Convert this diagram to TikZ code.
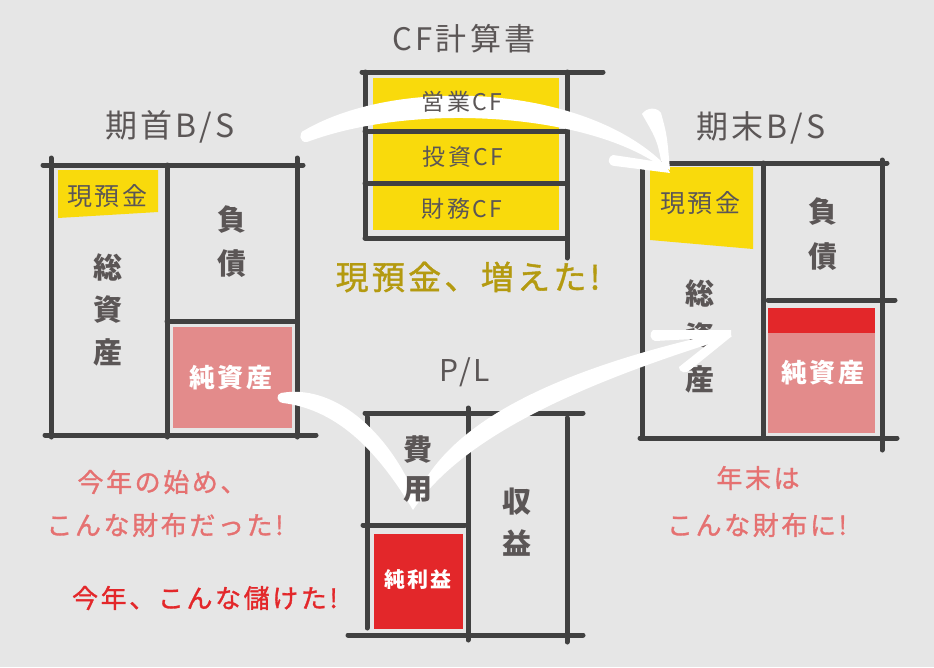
\documentclass[tikz,border=0pt]{standalone}
\usepackage{fontspec}
\setmainfont{Noto Sans CJK JP}
\newfontfamily\jps{Noto Sans CJK JP}[LetterSpace=10]
\newfontfamily\jpn{Noto Sans CJK JP}[LetterSpace=10,FakeBold=1.2]
\definecolor{bgc}{HTML}{E6E6E6}
\definecolor{lnc}{HTML}{414141}
\definecolor{txc}{HTML}{5B5656}
\definecolor{yelc}{HTML}{F9DA0C}
\definecolor{pinkc}{HTML}{E38B8B}
\definecolor{redc}{HTML}{E3272A}
\definecolor{olvc}{HTML}{B49A10}
\definecolor{salc}{HTML}{E57171}
\begin{document}
\begin{tikzpicture}[x=1pt,y=-1pt,
 ln/.style={draw=lnc,line width=5pt,line cap=round},
 ttl/.style={text=txc,font=\jps\fontsize{32}{36}\selectfont,inner sep=0pt},
 big/.style={text=txc,font=\bfseries\fontsize{29}{32}\selectfont,inner sep=0pt},
 cash/.style={text=txc,font=\jps\fontsize{25}{28}\selectfont,inner sep=0pt},
 cfl/.style={text=txc,font=\jps\fontsize{23}{26}\selectfont,inner sep=0pt},
 wlab/.style={text=white,font=\jps\bfseries\fontsize{26}{30}\selectfont,inner sep=0pt},
 note/.style={font=\jpn\fontsize{26}{30}\selectfont,inner sep=0pt},
 arr/.style={fill=white}]
\fill[bgc] (0,0) rectangle (934,667);
\useasboundingbox (0,0) rectangle (934,667);

% ---------- fills ----------
\fill[yelc] (58,170) -- (158,170) -- (158,212) -- (58,218) -- cycle;
\fill[pinkc] (173,327) rectangle (292,428);
\fill[yelc] (373,78) rectangle (559,230);
\fill[yelc] (650,167) -- (753,167) -- (753,249) -- (650,240) -- cycle;
\fill[redc] (768,308) rectangle (875,333);
\fill[pinkc] (768,333) rectangle (875,433);
\fill[redc] (374,534) rectangle (463,629);

% ---------- left B/S ----------
\draw[ln] (43,165) -- (303,165);
\draw[ln] (51,158) -- (51,437);
\draw[ln] (167,165) -- (167,437);
\draw[ln] (297,158) -- (297,437);
\draw[ln] (45,435) -- (316,435);
\draw[ln] (167,321) -- (297,321);

% ---------- CF ----------
\draw[ln] (362,72) -- (603,72);
\draw[ln] (365,72) -- (365,238);
\draw[ln] (567,72) -- (567,258);
\draw[ln] (365,238) -- (567,238);
\draw[ln] (365,131) -- (567,131);
\draw[ln] (365,183) -- (567,183);

% ---------- right B/S ----------
\draw[ln] (640,163) -- (887,163);
\draw[ln] (642,163) -- (642,438);
\draw[ln] (763,163) -- (763,438);
\draw[ln] (882,160) -- (882,450);
\draw[ln] (640,438) -- (897,438);
\draw[ln] (768,300) -- (895,300);

% ---------- P/L ----------
\draw[ln] (365,413) -- (583,413);
\draw[ln] (367,417) -- (367,628);
\draw[ln] (468,408) -- (468,640);
\draw[ln] (567,418) -- (567,642);
\draw[ln] (348,635) -- (583,635);
\draw[ln] (363,525) -- (465,525);

% right total assets (partly hidden by arrow)
\node[big] (rso) at (700,293) {総};
\node[big] (rsi) at (700,337) {資};
\node[big] (rsa) at (700,379) {産};

% ---------- white arrows ----------
\fill[arr] (305,130) .. controls (400,75) and (590,85) .. (668,168)
  -- (668,172) .. controls (600,115) and (420,100) .. (307,142)
  .. controls (299,143) and (298,132) .. (305,130) -- cycle;
\fill[arr] (642,114) .. controls (647,107) and (657,107) .. (661,113)
  .. controls (667,135) .. (670,170) -- (662,165) .. controls (657,140) .. (642,114) -- cycle;
\fill[arr] (613,155) .. controls (606,158) and (608,166) .. (615,166)
  -- (670,173) -- (665,163) .. controls (640,159) .. (613,155) -- cycle;

\fill[arr] (281,393) .. controls (330,384) and (385,425) .. (416,497)
  .. controls (450,420) and (560,368) .. (728,331)
  -- (728,338) .. controls (570,387) and (460,440) .. (413,510)
  .. controls (380,455) and (340,410) .. (283,403)
  .. controls (276,402) and (276,394) .. (281,393) -- cycle;
\fill[arr] (653,330) .. controls (649,333) and (650,340) .. (655,341)
  -- (731,337) -- (731,330) -- cycle;
\fill[arr] (679,367) .. controls (680,374) and (687,373) .. (690,370)
  -- (732,336) -- (723,332) -- cycle;

% ---------- texts ----------
\node[ttl] (t1) at (170,127) {期首B/S};
\node[ttl] (t2) at (761,128) {期末B/S};
\node[ttl,font=\jps\fontsize{31}{36}\selectfont] (t3) at (464,39) {CF計算書};
\node[ttl,font=\jps\fontsize{30}{36}\selectfont] (t4) at (465,372) {P/L};

\node[cash] (lc) at (107,196) {現預金};
\node[big] (lfu) at (232,220) {負};
\node[big] (lsa) at (232,264) {債};
\node[big] (lso) at (108,267) {総};
\node[big] (lsi) at (108,310) {資};
\node[big] (lsn) at (108,352) {産};
\node[wlab] (lj) at (231,378) {純資産};

\node[cfl] (c1) at (462,102) {営業CF};
\node[cfl] (c2) at (463,157) {投資CF};
\node[cfl] (c3) at (462,209) {財務CF};
\node[note,text=olvc,font=\jpn\fontsize{33}{36}\selectfont] (cm) at (468,277) {現預金、増えた!};

\node[cash] (rc) at (700,203) {現預金};
\node[big] (rfu) at (823,212) {負};
\node[big] (rsa2) at (823,257) {債};
\node[wlab] (rj) at (823,373) {純資産};

\node[big] (p1) at (418,450) {費};
\node[big] (p2) at (418,490) {用};
\node[big] (p3) at (517,502) {収};
\node[big] (p4) at (517,543) {益};
\node[wlab,font=\jps\bfseries\fontsize{21}{24}\selectfont] (pn) at (418,580) {純利益};

\node[note,text=salc] (n1) at (162,482) {今年の始め、};
\node[note,text=salc] (n2) at (165,525) {こんな財布だった!};
\node[note,text=redc] (n3) at (205,598) {今年、こんな儲けた!};
\node[note,text=salc] (n4) at (758,478) {年末は};
\node[note,text=salc] (n5) at (757,525) {こんな財布に!};
\end{tikzpicture}
\end{document}
